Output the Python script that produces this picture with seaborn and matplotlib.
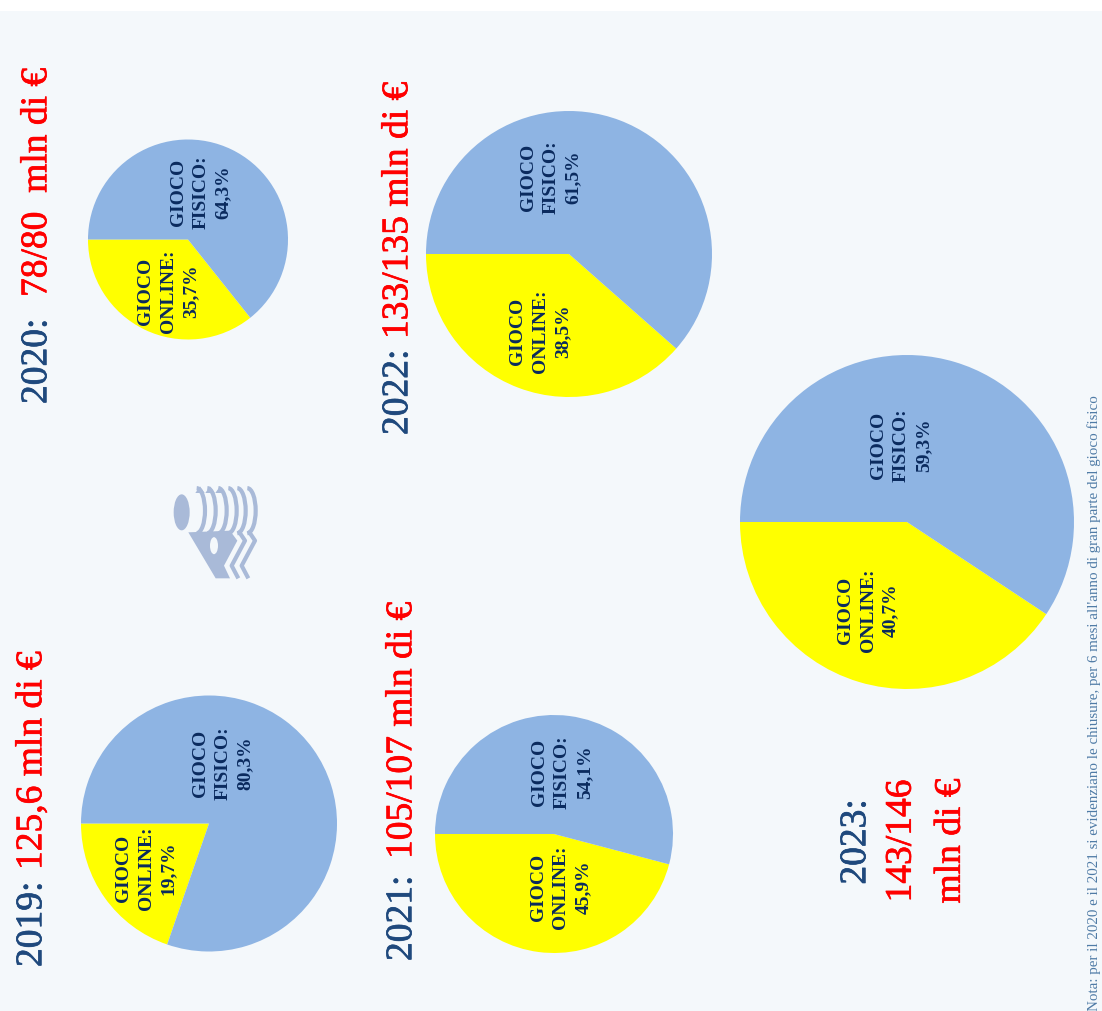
import matplotlib
matplotlib.use("Agg")
import matplotlib.pyplot as plt
from matplotlib.patches import Arc, Ellipse, Polygon, Rectangle
import matplotlib.patheffects as pe
import seaborn as sns

# data
years = ["2019:", "2020:", "2021:", "2022:", "2023:"]
totals = ["125,6 mln di €", "78/80  mln di €", "105/107 mln di €", "133/135 mln di €", "143/146\nmln di €"]
online = [19.7, 35.7, 45.9, 38.5, 40.7]
fisico = [80.3, 64.3, 54.1, 61.5, 59.3]
note = "Nota: per il 2020 e il 2021 si evidenziano le chiusure, per 6 mesi all'anno di gran parte del gioco fisico"

# layout, in pixels of the 1102x1012 picture
W, H = 1102, 1012
pie_xy = [(209, 824.5), (188, 240.5), (554, 835), (569, 255), (907, 523)]
pie_r = [128, 100, 119, 143, 167]
fisico_xy = [(223, 763), (201, 192), (562, 772), (551, 177), (901, 445)]
online_xy = [(146, 868), (168, 291), (561, 887), (540, 331), (868, 610)]

BG = "#F4F8FB"
BLUE = "#8EB4E3"
YELLOW = "#FFFF00"
NAVY = "#0A2A5E"
TITLE_BLUE = "#1F497D"
RED = "#FF0000"
LOGO = "#A9BAD8"

sns.set_theme(style="white")
plt.rcParams["font.family"] = ["Liberation Serif", "DejaVu Serif"]

fig = plt.figure(figsize=(W / 100, H / 100), dpi=100, facecolor="white")
ax = fig.add_axes([0, 0, 1, 1])

ax.add_patch(Rectangle((0, 12), W, H - 12, facecolor=BG, edgecolor="none", zorder=0))

palette = sns.color_palette([YELLOW, BLUE])
for i in range(len(years)):
    # y axis is flipped, so counterclock=False looks counterclockwise
    ax.pie([online[i], fisico[i]], colors=palette, startangle=180, counterclock=False,
           center=pie_xy[i], radius=pie_r[i], wedgeprops=dict(linewidth=0))
    ax.text(*fisico_xy[i], "GIOCO\nFISICO:\n%s%%" % str(fisico[i]).replace(".", ","),
            rotation=90, ha="center", va="center", multialignment="center",
            fontsize=14, fontweight="bold", color=NAVY, linespacing=1.42)
    ax.text(*online_xy[i], "GIOCO\nONLINE:\n%s%%" % str(online[i]).replace(".", ","),
            rotation=90, ha="center", va="center", multialignment="center",
            fontsize=14, fontweight="bold", color=NAVY, linespacing=1.42)

ax.set_xlim(0, W)
ax.set_ylim(H, 0)
ax.set_aspect("auto")

# titles: year in blue, amount in red
TS = 27
def title(x, y, s, color, va="bottom"):
    t = ax.text(x, y, s, rotation=90, ha="center", va=va, fontsize=TS, color=color)
    t.set_path_effects([pe.Stroke(linewidth=0.5, foreground=color), pe.Normal()])

title(32, 968, years[0], TITLE_BLUE)
title(32, 871, totals[0], RED)
title(37, 405, years[1], TITLE_BLUE)
title(37, 298, totals[1], RED)
title(402, 962, years[2], TITLE_BLUE)
title(402, 860, totals[2], RED)
title(398, 436, years[3], TITLE_BLUE)
title(398, 340, totals[3], RED)
title(856, 843, years[4], TITLE_BLUE, va="center")
t23 = ax.text(926, 842, totals[4], rotation=90, ha="center", va="center", multialignment="center",
              fontsize=TS, color=RED, linespacing=1.55)
t23.set_path_effects([pe.Stroke(linewidth=0.5, foreground=RED), pe.Normal()])

ax.text(1094.5, 1011, note, rotation=90, ha="center", va="bottom", fontsize=10.85, color="#4F7BA6")

# logo
def zx(v):
    return 150 + v / 3
def zy(v):
    return 470 + v / 3

for cx in [140, 172, 205, 235, 262, 292]:
    ax.add_patch(Arc((zx(cx), zy(125)), 50 / 3, 135 / 3, theta1=-90, theta2=90,
                     color=LOGO, linewidth=3, zorder=3))
ax.add_patch(Ellipse((zx(95), zy(130)), 16, 36, facecolor=LOGO, edgecolor="none", zorder=3))
for tip in [150, 180, 210]:
    ax.add_patch(Polygon([(zx(tip - 14), zy(72)), (zx(tip), zy(52)), (zx(tip + 14), zy(72))],
                         facecolor=LOGO, edgecolor="none", zorder=3))
ax.add_patch(Polygon([(zx(115), zy(190)), (zx(240), zy(185)), (zx(262), zy(215)), (zx(222), zy(290)),
                      (zx(240), zy(328)), (zx(197), zy(328))], facecolor=LOGO, edgecolor="none", zorder=3))
ax.add_patch(Ellipse((zx(192), zy(230)), 8, 17, facecolor=BG, edgecolor="none", zorder=4))
for off in [0, 30]:
    ax.plot([zx(265 + off), zx(285 + off), zx(245 + off), zx(265 + off)],
            [zy(185), zy(215), zy(290), zy(328)], color=LOGO, linewidth=3, zorder=3,
            solid_capstyle="butt")

fig.savefig("out.png", dpi=100, facecolor="white")
